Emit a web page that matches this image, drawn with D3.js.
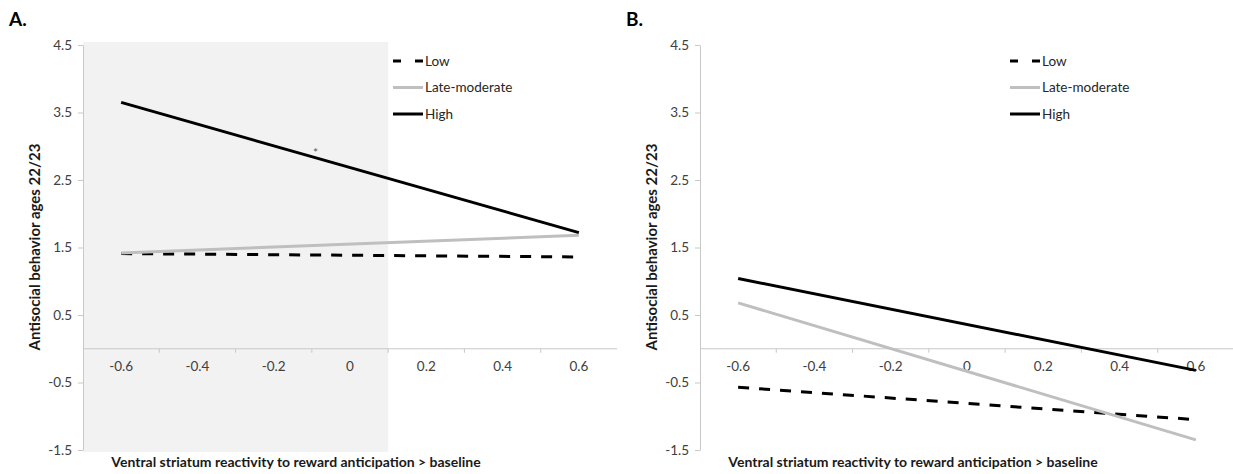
<!DOCTYPE html>
<html>
<head>
<meta charset="utf-8">
<script src="https://cdn.jsdelivr.net/npm/d3@7"></script>
<style>
  body { margin: 0; background: #fff; }
  svg text { font-family: Lato, 'Open Sans', sans-serif; }
</style>
</head>
<body>
<div id="root"></div>
<script>
const categories = ['-0.6', '-0.4', '-0.2', '0', '0.2', '0.4', '0.6'];
const yTicks = [4.5, 3.5, 2.5, 1.5, 0.5, -0.5, -1.5];
const seriesNames = ['Low', 'Late-moderate', 'High'];
const lineEnds = ['-0.6', '0.6'];

// panel A (simple slopes)
const lowA = [1.41, 1.36];
const lateA = [1.42, 1.68];
const highA = [3.65, 1.72];
const shadedA = ['-0.6', '0'];

// panel B
const lowB = [-0.57, -1.05];
const lateB = [0.68, -1.35];
const highB = [1.04, -0.32];

const app = (function(d3) {

  const width = 1233;
  const height = 474;
  const plotW = 534;

  const styles = {
    'Low': { stroke: '#000', dash: '11,10', legendDash: '8,14' },
    'Late-moderate': { stroke: '#bfbfbf', dash: null, legendDash: null },
    'High': { stroke: '#000', dash: null, legendDash: null }
  };

  const y = d3.scaleLinear()
    .domain([-1.5, 4.5])
    .range([450, 45]);

  const x = d3.scaleBand()
    .domain(categories)
    .range([0, plotW]);

  const cx = (c) => x(c) + x.bandwidth() / 2;

  const svg = d3.select('#root')
    .append('svg')
      .attr('width', width)
      .attr('height', height);

  function drawPanel(left, label, series, shaded, star) {
    const g = svg.append('g')
      .attr('transform', `translate(${left}, 0)`);

    if (shaded) {
      g.append('rect')
        .attr('x', x(shaded[0]))
        .attr('y', y(4.5) - 3)
        .attr('width', x(shaded[1]) + x.bandwidth() - x(shaded[0]))
        .attr('height', y(-1.5) - y(4.5) + 5)
        .attr('fill', '#f2f2f2');
    }

    // y axis
    const yAxis = g.append('g')
      .call(d3.axisLeft(y)
        .tickValues(yTicks)
        .tickFormat((d) => d.toFixed(1))
        .tickSize(5)
        .tickSizeOuter(0)
        .tickPadding(6));
    yAxis.select('.domain').attr('stroke', '#c8c8c8');
    yAxis.selectAll('.tick line').attr('stroke', '#c8c8c8');
    yAxis.selectAll('text')
      .attr('font-family', 'Lato, sans-serif')
      .attr('font-size', 13.5)
      .attr('fill', '#404040');

    // x axis sits on zero, ticks between categories
    const x0 = y(0);
    const xAxis = g.append('g')
      .attr('transform', `translate(0, ${x0})`)
      .call(d3.axisBottom(x).tickSize(0).tickPadding(13));
    xAxis.select('.domain').remove();
    xAxis.selectAll('text')
      .attr('font-family', 'Lato, sans-serif')
      .attr('font-size', 13.5)
      .attr('fill', '#404040');

    g.append('line')
      .attr('x1', 0).attr('x2', plotW)
      .attr('y1', x0).attr('y2', x0)
      .attr('stroke', '#c8c8c8');

    g.selectAll('.xtick')
      .data(categories.slice(1))
    .enter().append('line')
      .attr('class', 'xtick')
      .attr('x1', (d) => x(d)).attr('x2', (d) => x(d))
      .attr('y1', x0).attr('y2', x0 + 4)
      .attr('stroke', '#c8c8c8');

    // lines
    const line = d3.line()
      .x((d) => cx(d.cat))
      .y((d) => y(d.v));

    seriesNames.forEach((name, i) => {
      const pts = lineEnds.map((c, j) => ({ cat: c, v: series[i][j] }));
      g.append('path')
        .datum(pts)
        .attr('d', line)
        .attr('fill', 'none')
        .attr('stroke', styles[name].stroke)
        .attr('stroke-width', 3)
        .attr('stroke-dasharray', styles[name].dash);
    });

    if (star) {
      // significance mark just above the High slope
      const sx = cx(star) + x.step() * 0.55;
      const t = (sx - cx(lineEnds[0])) / (cx(lineEnds[1]) - cx(lineEnds[0]));
      const sy = y(series[2][0] + (series[2][1] - series[2][0]) * t) - 1;
      g.append('text')
        .attr('x', sx)
        .attr('y', sy)
        .attr('text-anchor', 'middle')
        .attr('font-size', 12)
        .attr('fill', '#555')
        .text('*');
    }

    // legend
    const lg = g.append('g')
      .attr('transform', `translate(310, 0)`);
    const legendY = [61, 87.5, 114];
    seriesNames.forEach((name, i) => {
      lg.append('line')
        .attr('x1', 0).attr('x2', 30)
        .attr('y1', legendY[i]).attr('y2', legendY[i])
        .attr('stroke', styles[name].stroke)
        .attr('stroke-width', 3)
        .attr('stroke-dasharray', styles[name].legendDash);
      lg.append('text')
        .attr('x', 32)
        .attr('y', legendY[i])
        .attr('dy', '0.35em')
        .attr('font-size', 13.5)
        .attr('fill', '#262626')
        .text(name);
    });

    // titles
    g.append('text')
      .attr('transform', `translate(-43, 247) rotate(-90)`)
      .attr('text-anchor', 'middle')
      .attr('font-size', 15)
      .attr('font-weight', 'bold')
      .attr('fill', '#1a1a1a')
      .text('Antisocial behavior ages 22/23');

    g.append('text')
      .attr('x', 213)
      .attr('y', 467)
      .attr('text-anchor', 'middle')
      .attr('font-size', 14)
      .attr('font-weight', 'bold')
      .attr('fill', '#1a1a1a')
      .text('Ventral striatum reactivity to reward anticipation > baseline');

    svg.append('text')
      .attr('x', left - 74)
      .attr('y', 26)
      .attr('font-family', '"Liberation Serif", serif')
      .attr('font-size', 19)
      .attr('font-weight', 'bold')
      .attr('fill', '#000')
      .text(label);
  }

  drawPanel(83, 'A.', [lowA, lateA, highA], shadedA, '-0.2');
  drawPanel(700, 'B.', [lowB, lateB, highB], null, null);

})(d3);
</script>
</body>
</html>
